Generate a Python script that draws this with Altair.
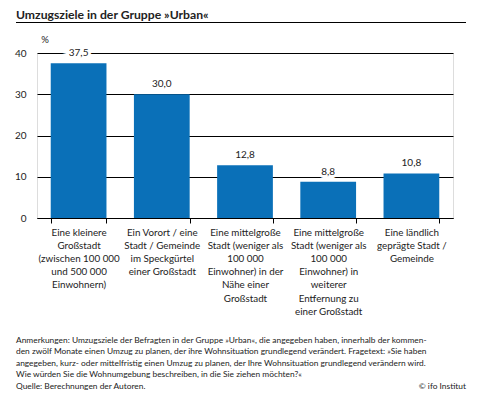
import altair as alt
import pandas as pd

categories = [
    "Eine kleinere|Großstadt|(zwischen 100 000|und 500 000|Einwohnern)",
    "Ein Vorort / eine|Stadt / Gemeinde|im Speckgürtel|einer Großstadt",
    "Eine mittelgroße|Stadt (weniger als|100 000|Einwohner) in der|Nähe einer|Großstadt",
    "Eine mittelgroße|Stadt (weniger als|100 000|Einwohner) in|weiterer|Entfernung zu|einer Großstadt",
    "Eine ländlich|geprägte Stadt /|Gemeinde",
]
values = [37.5, 30.0, 12.8, 8.8, 10.8]
value_labels = ["37,5", "30,0", "12,8", "8,8", "10,8"]
y_ticks = [0, 10, 20, 30, 40]

title_text = "Umzugsziele in der Gruppe »Urban«"
unit_text = "%"
note_lines = [
    "Anmerkungen: Umzugsziele der Befragten in der Gruppe »Urban«, die angegeben haben, innerhalb der kommen-",
    "den zwölf Monate einen Umzug zu planen, der ihre Wohnsituation grundlegend verändert. Fragetext: »Sie haben",
    "angegeben, kurz- oder mittelfristig einen Umzug zu planen, der Ihre Wohnsituation grundlegend verändern wird.",
    "Wie würden Sie die Wohnumgebung beschreiben, in die Sie ziehen möchten?«",
    "Quelle: Berechnungen der Autoren.",
]
copyright_text = "© ifo Institut"

FONT = "Lato"
BLUE = "#0a70b8"

df = pd.DataFrame({"cat": categories, "val": values, "lbl": value_labels})

x = alt.X("cat:N", sort=categories, title=None,
          scale=alt.Scale(paddingInner=0.33, paddingOuter=0.165),
          axis=alt.Axis(labelExpr="split(datum.label, '|')", labelAngle=0,
                        labelLineHeight=13.2, labelFontSize=9.8, labelFont=FONT,
                        labelColor="#222", labelPadding=4, tickBand="extent",
                        tickSize=5, tickColor="black", domainColor="black",
                        labelBaseline="top", labelAlign="center"))
y = alt.Y("val:Q", title=None,
          scale=alt.Scale(domain=[0, 40], nice=False),
          axis=alt.Axis(values=y_ticks, grid=True, gridColor="black", gridWidth=1,
                        domain=False, ticks=False, labelPadding=11,
                        labelFontSize=10, labelFont=FONT, labelColor="#222"))

base = alt.Chart(df)
bars = base.mark_bar(color=BLUE).encode(x=x, y=y)
halo = base.mark_text(baseline="bottom", dy=-5, fontSize=10, font=FONT,
                      stroke="white", strokeWidth=6, color="white").encode(
    x=alt.X("cat:N", sort=categories), y="val:Q", text="lbl:N")
labels = base.mark_text(baseline="bottom", dy=-5, fontSize=10, font=FONT,
                        color="#222").encode(
    x=alt.X("cat:N", sort=categories), y="val:Q", text="lbl:N")

title_df = pd.DataFrame({"t": [title_text]})
title = alt.Chart(title_df).mark_text(align="left", baseline="middle", fontSize=12.2,
                                      fontWeight="bold", font=FONT, color="#222").encode(
    x=alt.value(-21), y=alt.value(-38.5), text="t:N")
title_rule = alt.Chart(title_df).mark_rule(color="black", strokeWidth=1).encode(
    x=alt.value(-21), x2=alt.value(429), y=alt.value(-30.5))
unit = alt.Chart(pd.DataFrame({"t": [unit_text]})).mark_text(
    align="center", baseline="middle", fontSize=9.5, font=FONT, color="#222").encode(
    x=alt.value(8), y=alt.value(-13), text="t:N")

notes_df = pd.DataFrame({"t": note_lines, "i": list(range(len(note_lines)))})
notes = alt.Chart(notes_df).transform_calculate(py="286.5 + datum.i * 11.6").mark_text(
    align="left", baseline="middle", fontSize=8.4, font=FONT, color="#222").encode(
    x=alt.value(-21), y=alt.Y("py:Q", scale=None), text="t:N")
copy = alt.Chart(pd.DataFrame({"t": [copyright_text]})).mark_text(
    align="right", baseline="middle", fontSize=8.4, font=FONT, color="#222").encode(
    x=alt.value(429), y=alt.value(333), text="t:N")

chart = alt.layer(bars, halo, labels, title, title_rule, unit, notes, copy).properties(
    width=416, height=165,
    autosize=alt.AutoSizeParams(type="none"),
    padding={"left": 29, "top": 45, "right": 29, "bottom": 180},
).configure_view(stroke=None).configure(background="white")

chart.save("out.html", embed_options={"renderer": "svg", "actions": False})
